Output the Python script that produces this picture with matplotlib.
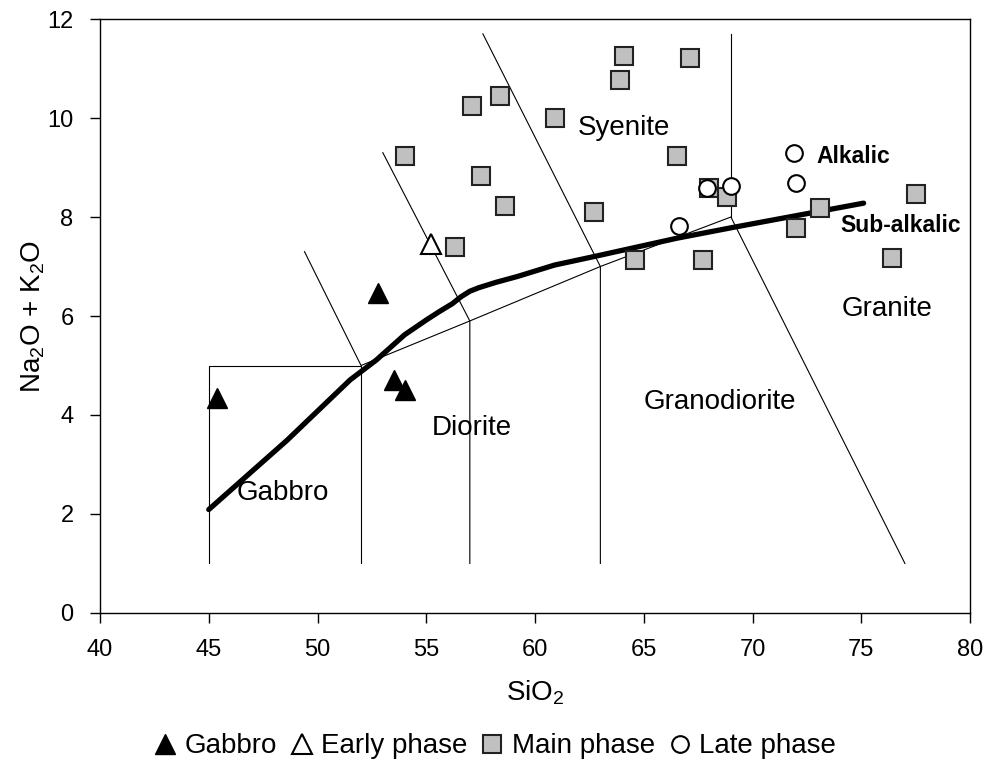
import matplotlib.pyplot as plt
from matplotlib.lines import Line2D

plt.rcParams['font.family'] = 'Liberation Sans'
plt.rcParams['mathtext.fontset'] = 'custom'
plt.rcParams['mathtext.rm'] = 'Liberation Sans'
plt.rcParams['mathtext.it'] = 'Liberation Sans:italic'
plt.rcParams['mathtext.bf'] = 'Liberation Sans:bold'

# sample data (SiO2, Na2O + K2O)
gabbro_x = [45.4, 52.8, 53.5, 54.0]
gabbro_y = [4.35, 6.47, 4.71, 4.50]

early_x = [55.2]
early_y = [7.45]

main_x = [54.0, 57.1, 58.4, 60.9, 57.5, 58.6, 56.3, 64.1, 67.1, 63.9, 66.5, 62.7,
          68.0, 68.8, 73.1, 72.0, 77.5, 64.6, 67.7, 76.4]
main_y = [9.23, 10.24, 10.44, 10.0, 8.83, 8.22, 7.40, 11.25, 11.21, 10.77, 9.23, 8.10,
          8.58, 8.41, 8.18, 7.77, 8.46, 7.13, 7.13, 7.17]

late_x = [71.9, 72.0, 67.9, 69.0, 66.6]
late_y = [9.30, 8.68, 8.58, 8.63, 7.82]

# alkalic / sub-alkalic dividing curve
div_x = [45.0, 48.6, 51.5, 52.7, 54.0, 55.0, 55.6, 56.2, 56.6, 57.0, 57.4, 58.2, 59.2,
         60.9, 62.7, 66.5, 69.1, 71.3, 75.1]
div_y = [2.09, 3.49, 4.71, 5.11, 5.62, 5.92, 6.09, 6.25, 6.39, 6.50, 6.57, 6.68, 6.80,
         7.03, 7.20, 7.57, 7.79, 7.97, 8.28]

# classification field boundaries
bounds = [
    ([45, 45, 52, 52], [1, 5, 5, 1]),
    ([49.4, 52, 57, 63, 69, 77], [7.3, 5, 5.9, 7, 8, 1]),
    ([53.0, 57, 57], [9.3, 5.9, 1]),
    ([57.6, 63, 63], [11.7, 7, 1]),
    ([69, 69], [8, 11.7]),
]

field_names = ['Gabbro', 'Diorite', 'Granodiorite', 'Granite', 'Syenite']
field_x = [48.4, 57.1, 68.5, 76.2, 64.1]
field_y = [2.42, 3.74, 4.27, 6.15, 9.79]

fig = plt.figure(figsize=(9.9, 7.67), dpi=100)
ax = fig.add_axes([0.101, 0.2008, 0.879, 0.7744])

for bx, by in bounds:
    ax.plot(bx, by, color='black', lw=0.8, zorder=1)

ax.plot(div_x, div_y, color='black', lw=3.8, solid_capstyle='round',
        solid_joinstyle='round', zorder=2)

ax.plot(gabbro_x, gabbro_y, ls='none', marker='^', ms=15, mfc='black', mec='black', zorder=3)
ax.plot(early_x, early_y, ls='none', marker='^', ms=15, mfc='white', mec='black', mew=1.5, zorder=3)
ax.plot(main_x, main_y, ls='none', marker='s', ms=13, mfc='#c0c0c0', mec='#222222', mew=1.5, zorder=3)
ax.plot(late_x, late_y, ls='none', marker='o', ms=12, mfc='white', mec='black', mew=1.5, zorder=4)

for name, fx, fy in zip(field_names, field_x, field_y):
    ax.text(fx, fy, name, fontsize=20, ha='center', va='center')

ax.text(72.95, 9.22, 'Alkalic', fontsize=16.5, fontweight='bold', ha='left', va='center')
ax.text(74.05, 7.82, 'Sub-alkalic', fontsize=16.5, fontweight='bold', ha='left', va='center')

ax.set_xlim(40, 80)
ax.set_ylim(0, 12)
ax.set_xticks(range(40, 81, 5))
ax.set_yticks(range(0, 13, 2))
ax.tick_params(direction='out', length=7, width=1, labelsize=17, pad=12)
ax.set_xlabel('SiO$_2$', fontsize=20, labelpad=12)
ax.set_ylabel('Na$_2$O + K$_2$O', fontsize=20, labelpad=0)
for sp in ax.spines.values():
    sp.set_linewidth(1)

handles = [
    Line2D([], [], ls='none', marker='^', ms=15, mfc='black', mec='black'),
    Line2D([], [], ls='none', marker='^', ms=15, mfc='white', mec='black', mew=1.5),
    Line2D([], [], ls='none', marker='s', ms=13, mfc='#c0c0c0', mec='#222222', mew=1.5),
    Line2D([], [], ls='none', marker='o', ms=12, mfc='white', mec='black', mew=1.5),
]
labels = ['Gabbro', 'Early phase', 'Main phase', 'Late phase']
fig.legend(handles, labels, loc='center', bbox_to_anchor=(0.5, 0.027), ncol=4, frameon=False,
           fontsize=20, handlelength=0.8, handletextpad=0.3, columnspacing=0.5)

fig.savefig('out.png', dpi=100)
